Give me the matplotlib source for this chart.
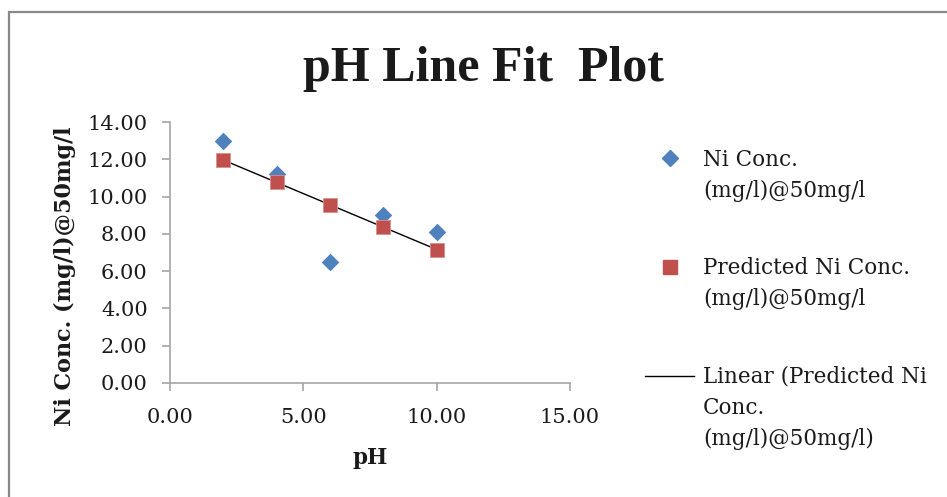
import matplotlib
matplotlib.use("Agg")
import matplotlib.pyplot as plt
from matplotlib.patches import Rectangle
from matplotlib.lines import Line2D

ph = [2, 4, 6, 8, 10]
ni_conc = [13.0, 11.2, 6.5, 9.0, 8.1]
predicted = [11.96, 10.76, 9.56, 8.36, 7.16]
xticks = [0, 5, 10, 15]
yticks = [0, 2, 4, 6, 8, 10, 12, 14]

FONT = "DejaVu Serif"
plt.rcParams['font.family'] = [FONT, 'Liberation Serif']

W, H = 947, 497
fig = plt.figure(figsize=(W / 100, H / 100), dpi=100)
fig.patch.set_facecolor("white")

# chart area border
fig.add_artist(Rectangle((9 / W, -0.1), 1.2, 1 - 12 / H + 0.1, transform=fig.transFigure,
                         fill=False, edgecolor="#888888", lw=1.6))

ax = fig.add_axes([170 / W, 1 - 383 / H, 400 / W, 261 / H])
ax.set_xlim(0, 15)
ax.set_ylim(0, 14)

blue = "#4F81BD"
red = "#C0504D"
txt = "#1a1a1a"
ax.plot(ph, predicted, color="black", lw=1.0, zorder=2)
ax.scatter(ph, ni_conc, marker="D", s=80, color=blue, zorder=3, linewidths=0)
ax.scatter(ph, predicted, marker="s", s=115, color=red, zorder=4, edgecolors="#d9908e", linewidths=0.6)

ax.set_xticks(xticks)
ax.set_xticklabels([f"{v:.2f}" for v in xticks])
ax.set_yticks(yticks)
ax.set_yticklabels([f"{v:.2f}" for v in yticks])
for s in ["top", "right"]:
    ax.spines[s].set_visible(False)
for s in ["left", "bottom"]:
    ax.spines[s].set_color("#a6a6a6")
    ax.spines[s].set_linewidth(1.2)
ax.tick_params(direction="out", length=6, width=1.2, color="#a6a6a6",
               labelsize=15, labelcolor=txt)
ax.tick_params(axis="y", pad=10)
ax.tick_params(axis="x", pad=12)
ax.set_xlabel("pH", fontsize=15.5, fontweight="bold", color=txt)
ax.xaxis.set_label_coords(0.5, -0.245)
ax.set_ylabel("Ni Conc. (mg/l)@50mg/l", fontsize=16, fontweight="bold", color=txt)
ax.yaxis.set_label_coords(-0.235, 0.41)

fig.text(483 / W, 1 - 81 / H, "pH Line Fit  Plot", ha="center", va="baseline",
         fontsize=36, fontweight="bold", family="Liberation Serif", color=txt)

# legend (manual, handles aligned with first text line)
tx = 703 / W
fs = 15.5
fig.add_artist(Line2D([670 / W], [1 - 158 / H], marker="D", markersize=8, color=blue,
                      linestyle="none", transform=fig.transFigure))
fig.text(tx, 1 - 160 / H, "Ni Conc.", fontsize=fs, va="center", color=txt)
fig.text(tx, 1 - 191 / H, "(mg/l)@50mg/l", fontsize=fs, va="center", color=txt)
fig.add_artist(Line2D([670 / W], [1 - 267 / H], marker="s", markersize=10, color=red,
                      linestyle="none", transform=fig.transFigure))
fig.text(tx, 1 - 268 / H, "Predicted Ni Conc.", fontsize=fs, va="center", color=txt)
fig.text(tx, 1 - 299 / H, "(mg/l)@50mg/l", fontsize=fs, va="center", color=txt)
fig.add_artist(Line2D([645 / W, 694 / W], [1 - 376 / H, 1 - 376 / H], color="black", lw=1.0,
                      transform=fig.transFigure))
fig.text(tx, 1 - 377 / H, "Linear (Predicted Ni", fontsize=fs, va="center", color=txt)
fig.text(tx, 1 - 408 / H, "Conc.", fontsize=fs, va="center", color=txt)
fig.text(tx, 1 - 439 / H, "(mg/l)@50mg/l)", fontsize=fs, va="center", color=txt)

fig.savefig("out.png", dpi=100)
